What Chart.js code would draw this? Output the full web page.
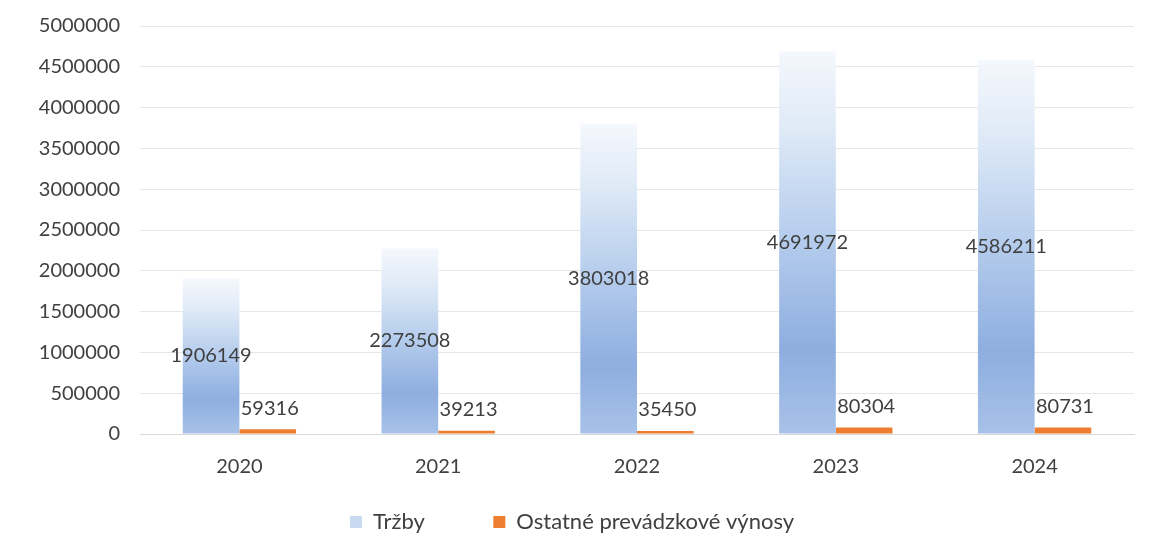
<!DOCTYPE html>
<html>
<head>
<meta charset="utf-8">
<script src="https://cdn.jsdelivr.net/npm/chart.js@4.4.1/dist/chart.umd.min.js"></script>
<style>
  html, body { margin: 0; padding: 0; background: #fff; overflow: hidden; }
  /* canvas is 6px taller and pulled up, so the top tick sits where the reference has it */
  #wrap { width: 1154px; height: 559px; position: relative; margin-top: -6px; }
</style>
</head>
<body>
<div id="wrap"><canvas id="chart"></canvas></div>
<script>
// values
const years = ['2020', '2021', '2022', '2023', '2024'];
const trzby = [1906149, 2273508, 3803018, 4691972, 4586211];
const ostatne = [59316, 39213, 35450, 80304, 80731];
const seriesNames = ['Tržby', 'Ostatné prevádzkové výnosy'];

const textColor = '#404040';
const fontFamily = 'Lato, "Open Sans", sans-serif';

// blue bar fill: light at top, darker near the bottom
function blueFill(context) {
  const chart = context.chart;
  const y = chart.scales && chart.scales.y;
  if (!chart.chartArea || !y || context.parsed === undefined) return '#a9c3e8';
  const top = y.getPixelForValue(context.parsed.y);
  const base = y.getPixelForValue(0);
  const g = chart.ctx.createLinearGradient(0, top, 0, base);
  g.addColorStop(0, '#f5f8fd');
  g.addColorStop(0.2, '#dfeaf7');
  g.addColorStop(0.5, '#b3cbec');
  g.addColorStop(0.78, '#8eaee0');
  g.addColorStop(1, '#a8c2e8');
  return g;
}

// draws the value labels, Chart.js has no datalabels built in
const valueLabels = {
  id: 'valueLabels',
  afterDatasetsDraw(chart) {
    const ctx = chart.ctx;
    ctx.save();
    ctx.font = '20px ' + fontFamily;
    ctx.fillStyle = textColor;
    ctx.textAlign = 'center';
    chart.data.datasets.forEach((ds, i) => {
      const meta = chart.getDatasetMeta(i);
      meta.data.forEach((el, j) => {
        const v = ds.data[j];
        if (i === 0) {
          ctx.textBaseline = 'middle';
          ctx.fillText(String(v), el.x, (el.y + el.base) / 2);
        } else {
          ctx.textBaseline = 'bottom';
          ctx.fillText(String(v), el.x + 2, el.y - 11);
        }
      });
    });
    ctx.restore();
  }
};

const ctx = document.getElementById('chart').getContext('2d');
new Chart(ctx, {
  type: 'bar',
  data: {
    labels: years,
    datasets: [
      {
        label: seriesNames[0],
        data: trzby,
        backgroundColor: blueFill,
        borderWidth: 0
      },
      {
        label: seriesNames[1],
        data: ostatne,
        backgroundColor: '#ed7d31',
        borderWidth: 0,
        minBarLength: 3
      }
    ]
  },
  options: {
    responsive: true,
    maintainAspectRatio: false,
    animation: false,
    layout: { padding: { left: 10, right: 20, top: 8, bottom: 10 } },
    datasets: {
      bar: { categoryPercentage: 0.57, barPercentage: 1.0 }
    },
    plugins: {
      legend: {
        position: 'bottom',
        labels: {
          color: textColor,
          font: { family: fontFamily, size: 22 },
          boxWidth: 12,
          boxHeight: 12,
          padding: 19,
          generateLabels(chart) {
            return seriesNames.map((name, i) => ({
              // trailing spaces widen the gap between the two items
              text: i === 0 ? name + '\u2003\u2003\u2003' : name,
              fillStyle: i === 0 ? '#c8d9f0' : '#ed7d31',
              strokeStyle: 'rgba(0,0,0,0)',
              lineWidth: 0,
              fontColor: textColor,
              datasetIndex: i
            }));
          }
        }
      },
      tooltip: { enabled: false }
    },
    scales: {
      x: {
        grid: { display: false },
        border: { color: '#d9d9d9' },
        ticks: { color: textColor, font: { family: fontFamily, size: 20 }, padding: 13 }
      },
      y: {
        min: 0,
        max: 5000000,
        ticks: {
          stepSize: 500000,
          color: textColor,
          font: { family: fontFamily, size: 20 },
          padding: 20,
          callback: v => String(v)
        },
        grid: { color: '#e6e6e6', drawTicks: false },
        border: { display: false },
        afterFit(scale) { scale.width = 130; }
      }
    }
  },
  plugins: [valueLabels]
});
</script>
</body>
</html>
